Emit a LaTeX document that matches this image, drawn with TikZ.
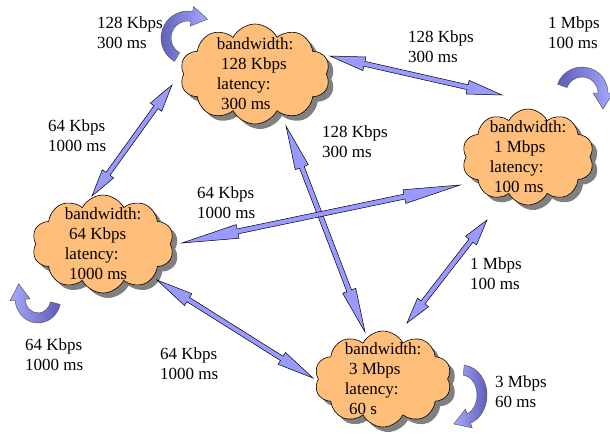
\documentclass[tikz,border=0pt]{standalone}
\usepackage{fontspec}
\setmainfont{Liberation Serif}
\usetikzlibrary{shapes.symbols,shadows,calc}

\definecolor{cloudorange}{RGB}{255,190,122}
\definecolor{linkblue}{RGB}{153,153,255}
\definecolor{loopdark}{RGB}{92,92,185}
\definecolor{looplight}{RGB}{168,168,255}

\tikzset{
  site/.style={cloud, cloud puffs=10, cloud puff arc=125, cloud ignores aspect,
    draw=black, line width=0.6pt, fill=cloudorange,
    drop shadow={shadow xshift=5pt, shadow yshift=-5pt, fill=black!50, opacity=1},
    inner sep=-14pt, align=left, font=\fontsize{17}{20}\selectfont},
  ratelabel/.style={align=left, anchor=west, inner sep=0pt, font=\fontsize{17}{20}\selectfont},
  linkshape/.style={fill=linkblue, draw=black, line width=0.5pt, line join=miter},
  loopshape/.style={draw=black!70, line width=0.4pt}
}

% two-headed link between two points
\newcommand{\linkarrow}[2]{%
  \path (#1) coordinate (la) (#2) coordinate (lb);
  \filldraw[linkshape] (la) -- ($(la)!0.2!(lb)!7pt!90:(lb)$) -- ($(la)!0.2!(lb)!2.5pt!90:(lb)$)
    -- ($(lb)!0.2!(la)!2.5pt!-90:(la)$) -- ($(lb)!0.2!(la)!7pt!-90:(la)$) -- (lb)
    -- ($(lb)!0.2!(la)!7pt!90:(la)$) -- ($(lb)!0.2!(la)!2.5pt!90:(la)$)
    -- ($(la)!0.2!(lb)!2.5pt!-90:(lb)$) -- ($(la)!0.2!(lb)!7pt!-90:(lb)$) -- cycle;}

% curved arrow back to the same site
\newcommand{\selfloop}[6]{%
  \begin{scope}[shift={(#1)}]
    \shade[loopshape, #6] (#2:#4pt+5pt and #5pt+5pt)
      arc[start angle=#2, end angle=#3, x radius=#4pt+5pt, y radius=#5pt+5pt]
      -- (#3:#4pt+10pt and #5pt+10pt) -- ($(#3:#4pt and #5pt)+(#3-90:16pt)$)
      -- (#3:#4pt-10pt and #5pt-10pt) -- (#3:#4pt-5pt and #5pt-5pt)
      arc[start angle=#3, end angle=#2, x radius=#4pt-5pt, y radius=#5pt-5pt] -- cycle;
  \end{scope}}

\begin{document}
\begin{tikzpicture}[x=1pt, y=1pt]
  \useasboundingbox (0,0) rectangle (610,-440);

  % sites
  \node[site, minimum width=150pt, minimum height=100pt] (k128) at (255,-74)
    {bandwidth:\\~128 Kbps\\latency:\\~300 ms};
  \node[site, minimum width=132pt, minimum height=96pt] (m1) at (528,-157)
    {bandwidth:\\~1 Mbps\\latency:\\~100 ms};
  \node[site, minimum width=142pt, minimum height=98pt] (k64) at (103,-244)
    {bandwidth:\\~64 Kbps\\latency:\\~1000 ms};
  \node[site, minimum width=137pt, minimum height=96pt] (m3) at (383,-379)
    {bandwidth:\\~3 Mbps\\latency:\\~60 s};

  % links
  \linkarrow{$(k128)+(-83,-11)$}{$(k64)+(-11,48)$}
  \linkarrow{$(k128)+(75,18)$}{$(m1)+(-26,62)$}
  \linkarrow{$(k128)+(31,-52)$}{$(m3)+(-18,47)$}
  \linkarrow{$(m1)+(-68,-28)$}{$(k64)+(79,1)$}
  \linkarrow{$(m1)+(-41,-63)$}{$(m3)+(24,56)$}
  \linkarrow{$(k64)+(54,-36)$}{$(m3)+(-70,1)$}

  % loops
  \selfloop{188,-38}{240}{80}{22}{22}{left color=loopdark, right color=looplight}
  \selfloop{582,-93}{160}{0}{21}{21}{left color=loopdark, right color=looplight}
  \selfloop{38,-298}{-15}{-175}{18}{20}{left color=looplight, right color=loopdark}
  \selfloop{462,-395}{85}{-70}{20}{25}{left color=looplight, right color=loopdark}

  % labels
  \node[ratelabel] (lk128) at (97,-33) {128 Kbps\\300 ms};
  \node[ratelabel] (lm1) at (548,-33) {1 Mbps\\100 ms};
  \node[ratelabel] (lk64) at (25,-355) {64 Kbps\\1000 ms};
  \node[ratelabel] (lm3) at (495,-392) {3 Mbps\\60 ms};
  \node[ratelabel] (lk128m1) at (408,-47) {128 Kbps\\300 ms};
  \node[ratelabel] (lk128k64) at (48,-136) {64 Kbps\\1000 ms};
  \node[ratelabel] (lk128m3) at (322,-142) {128 Kbps\\300 ms};
  \node[ratelabel] (lm1k64) at (197,-203) {64 Kbps\\1000 ms};
  \node[ratelabel] (lm1m3) at (470,-274) {1 Mbps\\100 ms};
  \node[ratelabel] (lk64m3) at (160,-364) {64 Kbps\\1000 ms};
\end{tikzpicture}
\end{document}
